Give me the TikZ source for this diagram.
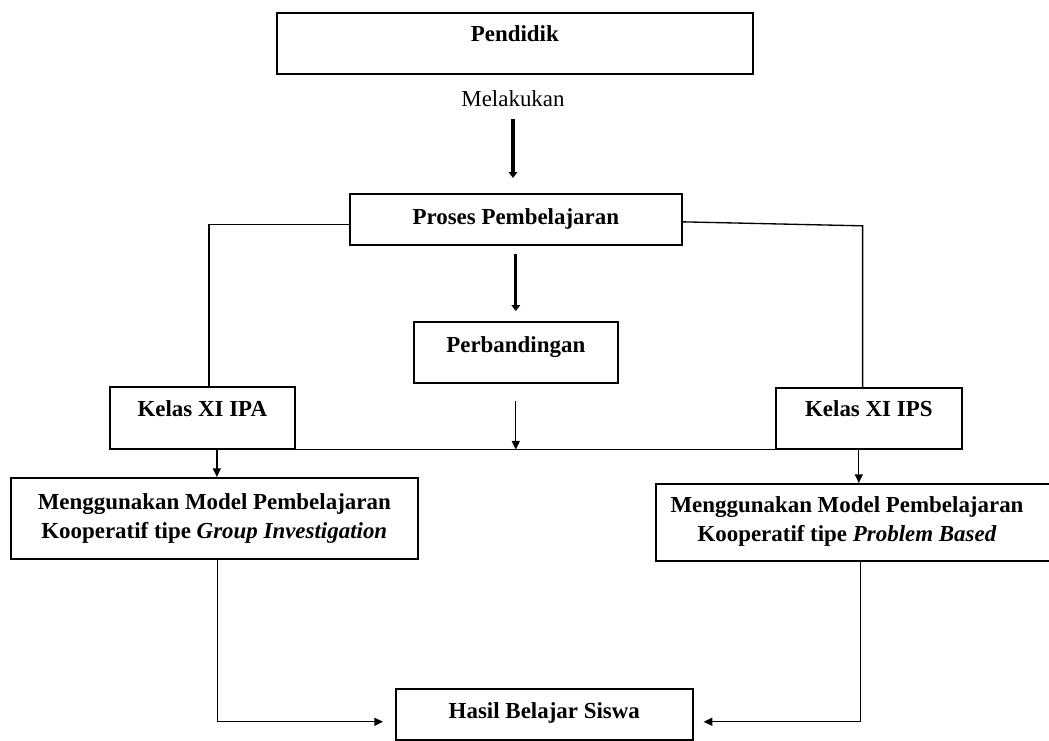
\documentclass[tikz,border=0pt]{standalone}
\usepackage{fontspec}
\setmainfont{Liberation Serif}
\usetikzlibrary{arrows.meta,positioning}
\tikzset{
  kotak/.style={draw, line width=1.2pt, inner xsep=0pt, inner ysep=0pt, anchor=north west,
    font=\fontsize{17.2}{21.75}\selectfont\bfseries, align=center},
  teks/.style={font=\fontsize{17.2}{21.75}\selectfont\bfseries, align=center, inner sep=0pt},
  garis/.style={line width=1pt},
  panah/.style={-{Triangle[length=6.5pt,width=6pt]}, line width=1pt},
  panahtebal/.style={-{Triangle[length=4.5pt,width=6.5pt]}, line width=2.4pt},
}
\begin{document}
\begin{tikzpicture}[x=0.75pt, y=-0.75pt]
  \useasboundingbox (0,0) rectangle (1049,740);
  % kotak
  \node[kotak, minimum width=357pt, text height=21.75pt, text depth=24pt] (pend) at (276,12) {Pendidik};
  \node[font=\fontsize{17.2}{21.75}\selectfont, anchor=base] (lak) at (513,106) {Melakukan};
  \node[kotak, minimum width=249pt, text height=23.25pt, text depth=15pt] (proses) at (349,193) {Proses Pembelajaran};
  \node[kotak, minimum width=153pt, text height=23.25pt, text depth=22.5pt] (banding) at (413,321) {Perbandingan};
  \node[kotak, minimum width=138.75pt, text height=22.5pt, text depth=24pt] (ipa) at (109,386) {Kelas XI IPA};
  \node[kotak, minimum width=139.5pt, text height=21.75pt, text depth=24pt] (ips) at (775,387) {Kelas XI IPS};
  \node[kotak, minimum width=305.25pt, minimum height=60.75pt] (mgi) at (10,477)
    {Menggunakan Model Pembelajaran\\Kooperatif tipe \textit{Group Investigation}};
  \node[kotak, minimum width=337.5pt, minimum height=57.75pt] (mpbkotak) at (655,483) {};
  \node[teks] (mpb) at (847,521.5)
    {Menggunakan Model Pembelajaran\\Kooperatif tipe \textit{Problem Based}};
  \node[kotak, minimum width=222.75pt, text height=22.5pt, text depth=15.75pt] (hasil) at (395,688) {Hasil Belajar Siswa};

  % panah
  \draw[panahtebal, shorten <=6pt, shorten >=11.25pt] (lak) -- (lak |- proses.north);
  \draw[panahtebal, shorten <=6pt, shorten >=7.5pt] (proses.south) -- (banding.north);
  \draw[garis] ([yshift=-4.1pt]proses.west) -| ([xshift=4.9pt]ipa.north);
  \draw[garis] ([yshift=-1.9pt]proses.east) -- ++(180,4) coordinate (belok) -- (belok |- ips.north);
  \draw[panah] ([yshift=-12.75pt]banding.south) -- (banding.south |- ipa.south);
  \coordinate (cabang) at ([xshift=10.9pt]ipa.south);
  \draw[garis] (cabang) -- (ips.south west);
  \draw[panah] (cabang) -- (cabang |- mgi.north);
  \coordinate (cabangb) at ([xshift=-7.5pt]ips.south);
  \draw[panah] (cabangb) -- (cabangb |- mpbkotak.north);
  \draw[panah] ([xshift=2.6pt]mgi.south) |- ([xshift=-9pt, yshift=-5.6pt]hasil.west);
  \draw[panah] ([xshift=-15pt]mpbkotak.south) |- ([xshift=7.5pt, yshift=-5.6pt]hasil.east);
\end{tikzpicture}
\end{document}
